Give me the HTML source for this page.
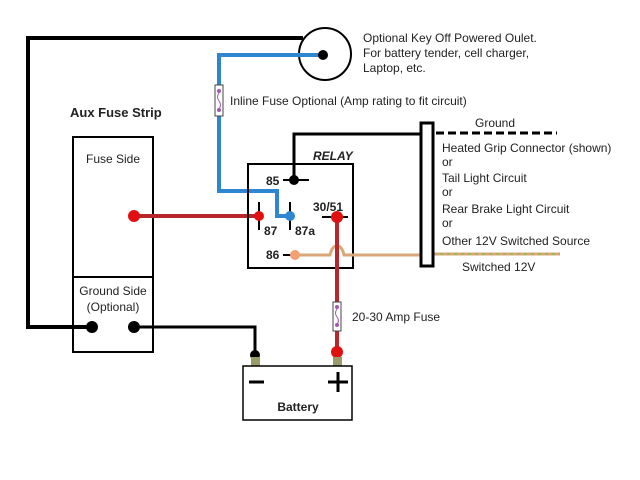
<!DOCTYPE html>
<html><head><meta charset="utf-8"><style>
html,body{margin:0;padding:0;background:#fff;width:640px;height:480px;overflow:hidden}
svg{display:block}
text{font-family:"Liberation Sans",sans-serif;font-size:12px;fill:#222}
</style></head><body>
<svg width="640" height="480" viewBox="0 0 640 480" xmlns="http://www.w3.org/2000/svg">
<!-- black outer loop -->
<polyline points="303,38 28,38 28,327 92,327" fill="none" stroke="#000" stroke-width="4"/>
<!-- outlet -->
<circle cx="325" cy="54" r="26" fill="none" stroke="#000" stroke-width="2"/>
<!-- blue wire -->
<polyline points="323,55 219,55 219,191 277,191 277,216 290,216" fill="none" stroke="#2f86d0" stroke-width="4"/>
<circle cx="323" cy="55" r="5" fill="#000"/>
<!-- inline fuse -->
<rect x="215" y="85" width="8" height="31" fill="#fff" stroke="#444" stroke-width="1"/>
<circle cx="219" cy="91" r="2" fill="#a05ab0"/><circle cx="219" cy="110" r="2" fill="#a05ab0"/>
<path d="M219,93 q-3,4 0,8 q3,4 0,8" fill="none" stroke="#a05ab0" stroke-width="1"/>
<text x="230" y="105">Inline Fuse Optional (Amp rating to fit circuit)</text>
<text x="363" y="42">Optional Key Off Powered Oulet.</text>
<text x="363" y="57">For battery tender, cell charger,</text>
<text x="363" y="72">Laptop, etc.</text>
<!-- aux fuse strip -->
<text x="70" y="117" style="font-weight:bold;font-size:13px">Aux Fuse Strip</text>
<rect x="73" y="137" width="80" height="215" fill="none" stroke="#000" stroke-width="2"/>
<line x1="73" y1="277" x2="153" y2="277" stroke="#000" stroke-width="2"/>
<text x="113" y="163" text-anchor="middle">Fuse Side</text>
<text x="113" y="295" text-anchor="middle">Ground Side</text>
<text x="113" y="311" text-anchor="middle">(Optional)</text>
<!-- red 87 wire -->
<line x1="134" y1="216" x2="259" y2="216" stroke="#b8282a" stroke-width="4"/>
<circle cx="134" cy="216" r="6" fill="#e01010"/>
<!-- ground wire -->
<polyline points="134,327 255,327 255,355" fill="none" stroke="#000" stroke-width="3"/>
<circle cx="92" cy="327" r="6" fill="#000"/><circle cx="134" cy="327" r="6" fill="#000"/>
<circle cx="255" cy="355" r="5" fill="#000"/>
<!-- relay -->
<text x="313" y="160" style="font-weight:bold;font-style:italic;font-size:12px">RELAY</text>
<rect x="248" y="164" width="105" height="104" fill="none" stroke="#000" stroke-width="2"/>
<polyline points="294,180 294,134 420,134" fill="none" stroke="#000" stroke-width="3"/>
<line x1="283" y1="180" x2="309" y2="180" stroke="#000" stroke-width="2"/>
<circle cx="294" cy="180" r="5" fill="#000"/>
<text x="266" y="185" style="font-weight:bold">85</text>
<line x1="259" y1="202" x2="259" y2="230" stroke="#000" stroke-width="2"/>
<circle cx="259" cy="216" r="5" fill="#e01010"/>
<text x="264" y="235" style="font-weight:bold">87</text>
<line x1="290" y1="202" x2="290" y2="230" stroke="#000" stroke-width="2"/>
<circle cx="290" cy="216" r="5" fill="#2f86d0"/>
<text x="295" y="235" style="font-weight:bold">87a</text>
<text x="313" y="211" style="font-weight:bold">30/51</text>
<line x1="322" y1="217" x2="348" y2="217" stroke="#000" stroke-width="2"/>
<!-- tan 86 wire -->
<path d="M295,255 L330,255 Q332,246 337,246 Q342,246 344,255 L420,255" fill="none" stroke="#d9a77a" stroke-width="3"/>
<line x1="433" y1="254" x2="560" y2="254" stroke="#d9a77a" stroke-width="3"/>
<line x1="433" y1="254" x2="560" y2="254" stroke="#8cbf3c" stroke-width="1.5" stroke-dasharray="3,4"/>
<line x1="283" y1="255" x2="292" y2="255" stroke="#000" stroke-width="2"/>
<circle cx="295" cy="255" r="5" fill="#f4a070"/>
<text x="266" y="259" style="font-weight:bold">86</text>
<!-- red 30 wire -->
<line x1="337" y1="217" x2="337" y2="352" stroke="#b8282a" stroke-width="4"/>
<circle cx="337" cy="217" r="6" fill="#e01010"/>
<rect x="333" y="302" width="8" height="29" fill="#fff" stroke="#444" stroke-width="1"/>
<circle cx="337" cy="307" r="2" fill="#a05ab0"/><circle cx="337" cy="325" r="2" fill="#a05ab0"/>
<path d="M337,309 q-3,4 0,8 q3,4 0,7" fill="none" stroke="#a05ab0" stroke-width="1"/>
<text x="352" y="321">20-30 Amp Fuse</text>
<circle cx="337" cy="352" r="6" fill="#e01010"/>
<!-- battery -->
<rect x="251" y="357" width="9" height="10" fill="#9a9a6a"/>
<rect x="333" y="357" width="9" height="10" fill="#9a9a6a"/>
<rect x="243" y="366" width="109" height="54" fill="#fff" stroke="#000" stroke-width="1.5"/>
<line x1="249" y1="382" x2="264" y2="382" stroke="#000" stroke-width="3"/>
<line x1="328" y1="382" x2="348" y2="382" stroke="#000" stroke-width="3"/>
<line x1="338" y1="372" x2="338" y2="392" stroke="#000" stroke-width="3"/>
<text x="298" y="411" text-anchor="middle" style="font-weight:bold">Battery</text>
<!-- connector -->
<rect x="421" y="123" width="12" height="143" fill="#fff" stroke="#000" stroke-width="3"/>
<line x1="436" y1="133" x2="557" y2="133" stroke="#000" stroke-width="3" stroke-dasharray="8,4"/>
<text x="475" y="127">Ground</text>
<text x="442" y="152">Heated Grip Connector (shown)</text>
<text x="442" y="166">or</text>
<text x="442" y="182">Tail Light Circuit</text>
<text x="442" y="196">or</text>
<text x="442" y="213">Rear Brake Light Circuit</text>
<text x="442" y="227">or</text>
<text x="442" y="245">Other 12V Switched Source</text>
<text x="462" y="271">Switched 12V</text>
</svg>
</body></html>
